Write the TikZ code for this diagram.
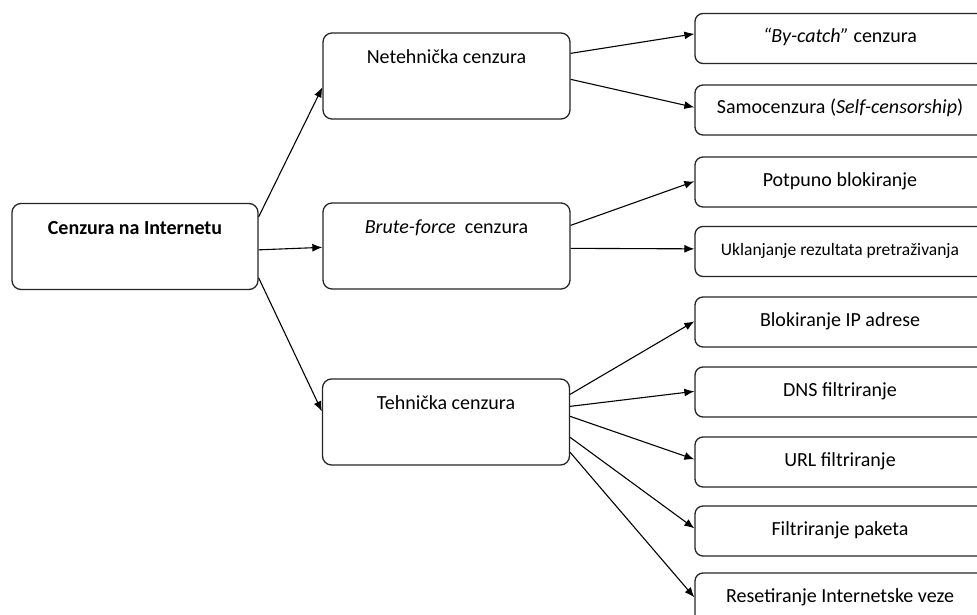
\documentclass[tikz,border=0pt]{standalone}
\usepackage{fontspec}
\setmainfont{Carlito}
\usetikzlibrary{arrows.meta,calc}
\tikzset{
  bigbox/.style={draw=black!85, line width=1.3pt, rounded corners=9pt,
    minimum width=247pt, inner xsep=0pt, inner ysep=0pt,
    text height=30.5pt, text depth=55.5pt, font=\fontsize{20}{23}\selectfont},
  smallbox/.style={draw=black!85, line width=1.3pt, rounded corners=8pt,
    minimum width=290pt, inner xsep=0pt, inner ysep=0pt,
    text height=29pt, text depth=21pt, font=\fontsize{20}{23}\selectfont},
  conn/.style={draw=black, line width=1.1pt, -{Latex[length=10pt,width=8pt]}}
}
\begin{document}
\begin{tikzpicture}[x=1pt,y=-1pt]
\useasboundingbox (0,0) rectangle (977,615);
\clip (0,0) rectangle (977,615);
\fill[white] (0,0) rectangle (977,615);

\node[bigbox, minimum width=246pt, font=\fontsize{20}{23}\selectfont\bfseries] (root) at (135,246.5) {Cenzura na Internetu};
\node[bigbox] (net) at (446.5,76) {Netehnička cenzura};
\node[bigbox] (brute) at (446.5,246) {\textit{Brute-force} \ cenzura};
\node[bigbox] (tech) at (446,422) {Tehnička cenzura};

\node[smallbox] (by) at (840,38.5) {\textit{“By-catch”} cenzura};
\node[smallbox] (samo) at (840,110) {Samocenzura (\textit{Self-censorship})};
\node[smallbox] (pot) at (840,182) {Potpuno blokiranje};
\node[smallbox, font=\fontsize{17.5}{20}\selectfont] (ukl) at (840,251.5) {Uklanjanje rezultata pretraživanja};
\node[smallbox] (blk) at (840,322) {Blokiranje IP adrese};
\node[smallbox] (dns) at (840,392) {DNS filtriranje};
\node[smallbox] (url) at (840,462) {URL filtriranje};
\node[smallbox] (filt) at (840,531) {Filtriranje paketa};
\node[smallbox] (reset) at (840,598) {Resetiranje Internetske veze};

\draw[conn] ($(root.north east)+(0,14)$) -- ($(net.north west)+(0,55)$);
\draw[conn] ($(root.north east)+(0,47)$) -- ($(brute.north west)+(0,45)$);
\draw[conn] ($(root.north east)+(0,75)$) -- ($(tech.north west)+(0,33)$);

\draw[conn] ($(net.north east)+(0,21)$) -- ($(by.north west)+(0,21)$);
\draw[conn] ($(net.north east)+(0,47)$) -- ($(samo.north west)+(0,23)$);

\draw[conn] ($(brute.north east)+(0,23)$) -- ($(pot.north west)+(0,25)$);
\draw[conn] ($(brute.north east)+(0,46)$) -- ($(ukl.north west)+(0,23)$);

\draw[conn] ($(tech.north east)+(0,16)$) -- ($(blk.north west)+(0,25)$);
\draw[conn] ($(tech.north east)+(0,28)$) -- ($(dns.north west)+(0,25)$);
\draw[conn] ($(tech.north east)+(0,38)$) -- ($(url.north west)+(0,23)$);
\draw[conn] ($(tech.north east)+(0,59)$) -- ($(filt.north west)+(0,23)$);
\draw[conn] ($(tech.north east)+(0,74)$) -- ($(reset.north west)+(0,25)$);
\end{tikzpicture}
\end{document}
